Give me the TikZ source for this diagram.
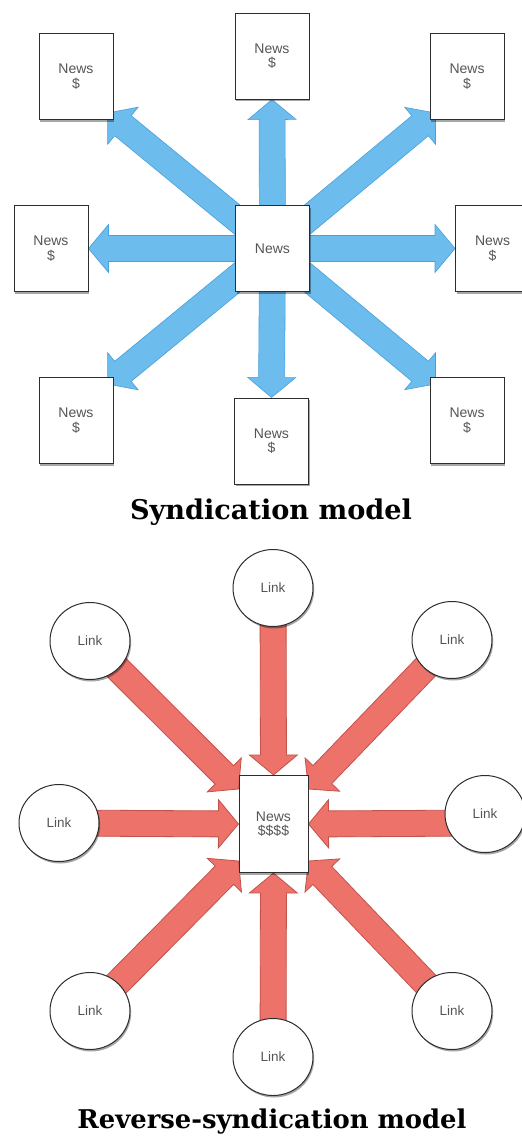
\documentclass[tikz,border=0pt]{standalone}
\usepackage{fontspec}
\setmainfont{Liberation Sans}
\newfontfamily\capfont{DejaVu Serif}
\usetikzlibrary{calc,shapes.geometric,shadows,backgrounds}
\definecolor{bluefill}{RGB}{108,188,238}
\definecolor{blueedge}{RGB}{72,160,220}
\definecolor{redfill}{RGB}{236,114,106}
\definecolor{rededge}{RGB}{196,82,76}
\definecolor{boxline}{RGB}{45,45,45}
\definecolor{txt}{RGB}{85,85,85}
\tikzset{
  newsbox/.style={draw=boxline, line width=1pt, fill=white, minimum width=74pt,
    minimum height=86pt, inner sep=0pt, align=center, text=txt,
    font=\fontsize{14}{14.5}\selectfont,
    drop shadow={shadow xshift=1.2pt, shadow yshift=-2pt, opacity=0.35, fill=black}},
  linkcirc/.style={ellipse, draw=boxline, line width=1pt, fill=white, minimum width=80pt,
    minimum height=77pt, inner sep=0pt, text=txt, font=\fontsize{13.5}{14}\selectfont,
    drop shadow={shadow xshift=1.2pt, shadow yshift=-2pt, opacity=0.35, fill=black}},
  bluearrow/.style={fill=bluefill, draw=blueedge, line width=0.6pt, line join=miter},
  redarrow/.style={fill=redfill, draw=rededge, line width=0.8pt, line join=miter},
  captext/.style={inner sep=0pt, text=black}
}
% #1 style, #2 tail, #3 tip
\newcommand\fatarrow[3]{%
  \path ($(#3)!20pt!(#2)$) coordinate (ahb);
  \filldraw[#1] ($(#2)!13pt!90:(#3)$) -- ($(ahb)!13pt!90:(#3)$) -- ($(ahb)!24pt!90:(#3)$)
    -- (#3) -- ($(ahb)!24pt!-90:(#3)$) -- ($(ahb)!13pt!-90:(#3)$) -- ($(#2)!13pt!-90:(#3)$) -- cycle;}
\begin{document}
\begin{tikzpicture}[x=1pt,y=-1pt]
\useasboundingbox (0,0) rectangle (522,1141);
\clip (0,0) rectangle (522,1141);
% ---------- Syndication model ----------
\node[newsbox] (tl) at (76,76.5) {News\\\$};
\node[newsbox] (t)  at (272,56) {News\\\$};
\node[newsbox] (tr) at (467,76.5) {News\\\$};
\node[newsbox] (l)  at (51,248.5) {News\\\$};
\node[newsbox] (c)  at (272.5,248.5) {News};
\node[newsbox] (r)  at (492.5,248.5) {News\\\$};
\node[newsbox] (bl) at (76,420.5) {News\\\$};
\node[newsbox] (b)  at (271.5,441) {News\\\$};
\node[newsbox] (br) at (467,420.5) {News\\\$};
\coordinate (tipUL) at ($(tl.south east)+(-6,-7)$);
\coordinate (tipUR) at ($(tr.south west)+(6,-7)$);
\coordinate (tipLL) at ($(bl.north east)+(-6,7)$);
\coordinate (tipLR) at ($(br.north west)+(6,7)$);
\begin{scope}[on background layer]
  \fatarrow{bluearrow}{c.center}{t.south}
  \fatarrow{bluearrow}{c.center}{b.north}
  \fatarrow{bluearrow}{c.center}{l.east}
  \fatarrow{bluearrow}{c.center}{r.west}
  \fatarrow{bluearrow}{c.center}{tipUL}
  \fatarrow{bluearrow}{c.center}{tipUR}
  \fatarrow{bluearrow}{c.center}{tipLL}
  \fatarrow{bluearrow}{c.center}{tipLR}
\end{scope}
\node[captext] (cap1) at (271,512) {\resizebox{282pt}{!}{\capfont\bfseries Syndication model}};
% ---------- Reverse-syndication model ----------
\node[newsbox, minimum width=69pt, minimum height=97pt] (n) at (273.5,824) {News\\\$\$\$\$};
\node[linkcirc] (k1) at (273,588) {Link};
\node[linkcirc] (k2) at (90,641) {Link};
\node[linkcirc] (k3) at (452,640) {Link};
\node[linkcirc] (k4) at (59,823) {Link};
\node[linkcirc] (k5) at (485,814) {Link};
\node[linkcirc] (k6) at (90,1011) {Link};
\node[linkcirc] (k7) at (273,1057) {Link};
\node[linkcirc] (k8) at (452,1011) {Link};
\coordinate (rUL) at ($(n.north west)+(0,14)$);
\coordinate (rUR) at ($(n.north east)+(0,14)$);
\coordinate (rLL) at ($(n.south west)+(0,-12)$);
\coordinate (rLR) at ($(n.south east)+(0,-12)$);
\coordinate (rR) at ($(k5.center)+(0,9)$);
\begin{scope}[on background layer]
  \fatarrow{redarrow}{k1.center}{n.north}
  \fatarrow{redarrow}{k2.center}{rUL}
  \fatarrow{redarrow}{k3.center}{rUR}
  \fatarrow{redarrow}{k4.center}{n.west}
  \fatarrow{redarrow}{rR}{n.east}
  \fatarrow{redarrow}{k6.center}{rLL}
  \fatarrow{redarrow}{k7.center}{n.south}
  \fatarrow{redarrow}{k8.center}{rLR}
\end{scope}
\node[captext] (cap2) at (272,1122) {\resizebox{389pt}{!}{\capfont\bfseries Reverse-syndication model}};
\end{tikzpicture}
\end{document}
